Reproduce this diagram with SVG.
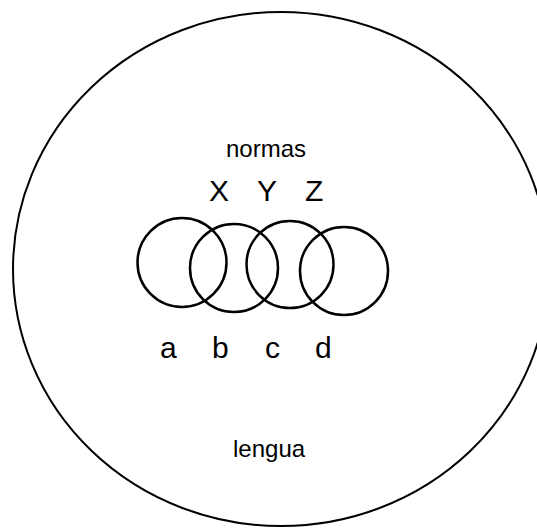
<svg xmlns="http://www.w3.org/2000/svg" width="537" height="529" viewBox="0 0 537 529">
<style>
.ring{fill:none;stroke:#000;stroke-width:2.5}
.big{fill:none;stroke:#000;stroke-width:2}
.t{font-family:"Liberation Sans",Arial,sans-serif;fill:#000}
.s{font-size:24px}
.l{font-size:30px}
</style>
<rect width="537" height="529" fill="#fff"/>
<g id="lengua">
<ellipse class="big" cx="281" cy="269" rx="268" ry="257"/>
<text class="t s" x="233" y="457">lengua</text>
</g>
<g id="normas">
<text class="t s" x="226" y="157">normas</text>
<text class="t l" x="209" y="201">X</text>
<text class="t l" x="257" y="201">Y</text>
<text class="t l" x="305" y="201">Z</text>
</g>
<g id="circle-a"><circle class="ring" cx="182" cy="262.5" r="44.5"/><text class="t l" x="160" y="358">a</text></g>
<g id="circle-b"><circle class="ring" cx="234" cy="268" r="44"/><text class="t l" x="212" y="358">b</text></g>
<g id="circle-c"><circle class="ring" cx="290" cy="264.5" r="43.5"/><text class="t l" x="265" y="358">c</text></g>
<g id="circle-d"><circle class="ring" cx="344" cy="271" r="44"/><text class="t l" x="315" y="358">d</text></g>
<g id="connectors"/>
</svg>
